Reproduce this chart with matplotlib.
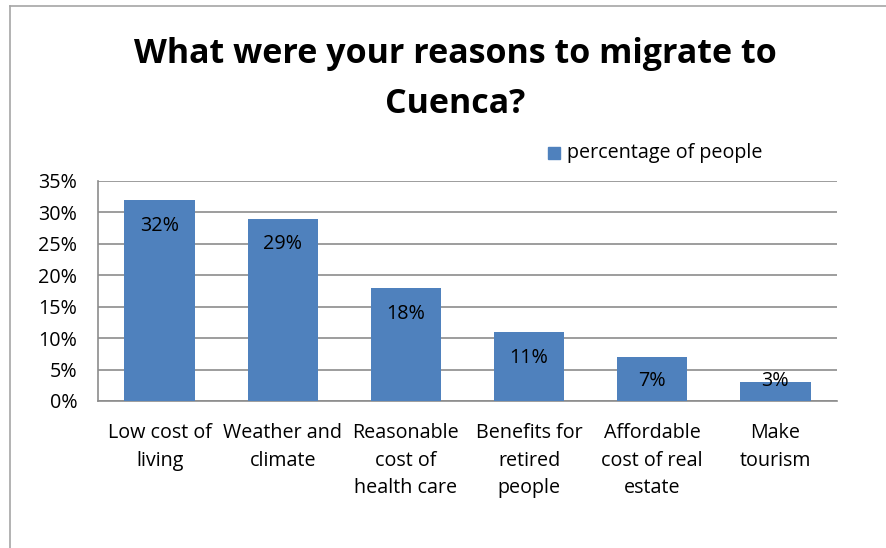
import matplotlib
matplotlib.use("Agg")
from matplotlib import pyplot as plt
from matplotlib.patches import Rectangle
from matplotlib.lines import Line2D

reasons = ['Low cost of\nliving', 'Weather and\nclimate', 'Reasonable\ncost of\nhealth care',
           'Benefits for\nretired\npeople', 'Affordable\ncost of real\nestate', 'Make\ntourism']
share = [32, 29, 18, 11, 7, 3]
yticks = [0, 5, 10, 15, 20, 25, 30, 35]

blue = '#4F81BD'
grid = '#8C8C8C'
plt.rcParams['font.family'] = ['Open Sans', 'DejaVu Sans']
fs = 14.2

fig = plt.figure(figsize=(8.86, 5.48), dpi=100)
W, H = 886, 548

# outer chart frame (only top and left show)
fig.add_artist(Line2D([10 / W, 10 / W], [0, 1 - 6 / H], color='#A6A6A6', lw=1.2))
fig.add_artist(Line2D([10 / W, 1], [1 - 6 / H, 1 - 6 / H], color='#A6A6A6', lw=1.2))

ax = fig.add_axes([98 / W, 1 - 401 / H, (837 - 98) / W, (401 - 181) / H])
x = range(len(share))
bars = ax.bar(x, share, width=0.57, color=blue, zorder=3)
ax.set_xlim(-0.5, len(share) - 0.5)
ax.set_ylim(0, 35)
ax.set_yticks(yticks)
ax.set_yticklabels([f'{v}%' for v in yticks], fontsize=fs)
ax.set_xticks(list(x))
ax.set_xticklabels(reasons, fontsize=fs, linespacing=1.5, va='top')
ax.tick_params(axis='both', length=0)
ax.tick_params(axis='y', pad=15)
ax.tick_params(axis='x', pad=16)
ax.yaxis.grid(True, color=grid, lw=1.2, zorder=0)
for side in ['right', 'top']:
    ax.spines[side].set_visible(False)
for side in ['left', 'bottom']:
    ax.spines[side].set_color(grid)
    ax.spines[side].set_linewidth(1.2)

# value labels sit inside the bar top, short bars keep them above the axis
for b, v in zip(bars, share):
    ax.text(b.get_x() + b.get_width() / 2, max(v - 4.1, 3.2), f'{v}%', ha='center',
            va='center', fontsize=fs, zorder=4)

fig.text(455 / W, 1 - 63 / H, 'What were your reasons to migrate to', ha='center',
         va='baseline', fontsize=24.5, fontweight='bold')
fig.text(455 / W, 1 - 113 / H, 'Cuenca?', ha='center', va='baseline', fontsize=24.5,
         fontweight='bold')

# legend
fig.add_artist(Rectangle((548 / W, 1 - 159 / H), 12 / W, 12 / H, color=blue))
fig.text(567 / W, 1 - 153 / H, 'percentage of people', ha='left', va='center',
         fontsize=fs)

fig.savefig('out.png', dpi=100)
